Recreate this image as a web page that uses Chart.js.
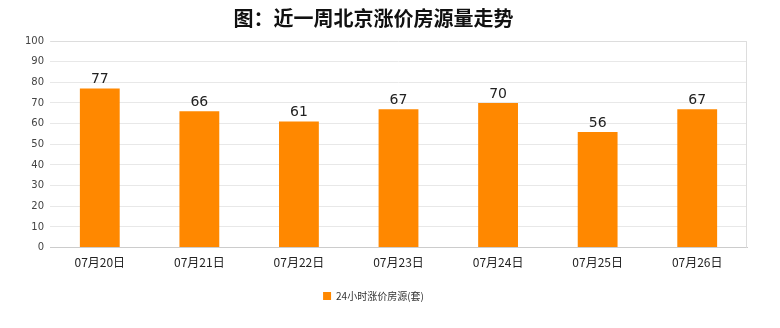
<!DOCTYPE html>
<html><head><meta charset="utf-8">
<script src="https://cdn.jsdelivr.net/npm/chart.js@4/dist/chart.umd.min.js"></script>
<style>html,body{margin:0;padding:0;background:#fff}#wrap{width:780px;height:328px}</style>
</head><body><div id="wrap"><canvas id="c" width="780" height="328"></canvas></div>
<script>
const categories = ["07月20日","07月21日","07月22日","07月23日","07月24日","07月25日","07月26日"];
const values = [77,66,61,67,70,56,67];
const seriesName = "24小时涨价房源(套)";
const titleText = "图：近一周北京涨价房源量走势";
const yTicks = [0,10,20,30,40,50,60,70,80,90,100];

const labelPlugin = {
  id:'barLabels',
  afterDatasetsDraw(chart){
    const ctx = chart.ctx;
    const meta = chart.getDatasetMeta(0);
    ctx.save();
    ctx.font = '14px "DejaVu Sans", sans-serif';
    ctx.fillStyle = '#222';
    ctx.textAlign = 'center';
    ctx.textBaseline = 'bottom';
    meta.data.forEach((bar,i)=>{
      ctx.fillText(String(chart.data.datasets[0].data[i]), bar.x, bar.y - 2);
    });
    ctx.restore();
  }
};
const borderPlugin = {
  id:'frame',
  beforeDatasetsDraw(chart){
    const a = chart.chartArea, ctx = chart.ctx;
    ctx.save();
    ctx.strokeStyle = '#dddddd'; ctx.lineWidth = 1;
    ctx.beginPath();
    ctx.moveTo(a.left+0.5, a.top+0.5); ctx.lineTo(a.right-0.5, a.top+0.5); ctx.lineTo(a.right-0.5, a.bottom);
    ctx.stroke();
    ctx.restore();
  }
};

new Chart(document.getElementById('c'), {
  type:'bar',
  data:{labels:categories, datasets:[{label:seriesName, data:values, backgroundColor:'#FF8800', borderWidth:0, categoryPercentage:1, barPercentage:0.4}]},
  options:{
    responsive:false, animation:false,
    layout:{padding:{left:0,right:33,top:0,bottom:17}},
    plugins:{
      title:{display:true, text:titleText, color:'#111', font:{family:'"Noto Sans CJK SC"', size:20, weight:'bold'}, padding:{top:6,bottom:11}},
      legend:{position:'bottom', labels:{boxWidth:8, boxHeight:8, color:'#333', font:{family:'"Noto Sans CJK SC"', size:10}, padding:10}},
      tooltip:{enabled:false}
    },
    scales:{
      x:{afterFit(s){s.height += 11;}, grid:{display:false}, border:{color:'#cccccc'}, ticks:{color:'#222', font:{family:'"Noto Sans CJK SC"', size:12}, padding:0, maxRotation:0}},
      y:{min:0,max:100, afterFit(s){s.width=50;}, afterBuildTicks(s){s.ticks = yTicks.map(v=>({value:v}));},
         grid:{color:'#e8e8e8', drawTicks:false}, border:{display:false},
         ticks:{color:'#444', font:{family:'"DejaVu Sans"', size:10}, padding:6}}
    }
  },
  plugins:[labelPlugin, borderPlugin]
});
</script></body></html>
